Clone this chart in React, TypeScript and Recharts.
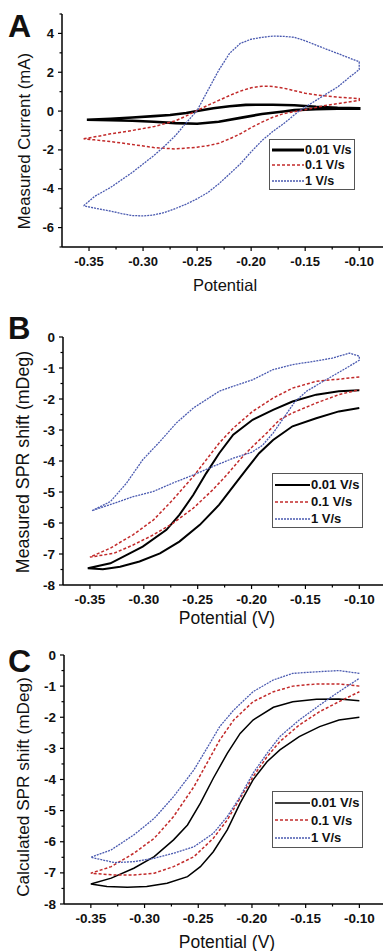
import React from "react";
import { LineChart, Line, XAxis, YAxis } from "recharts";

type Pt = [number, number];

// ---------- Panel A : Measured current (mA) ----------
const aSlow: Pt[] = [
  [-0.352, -0.45], [-0.33, -0.4], [-0.31, -0.33], [-0.29, -0.26], [-0.275, -0.2], [-0.26, -0.1], [-0.25, 0.0],
  [-0.235, 0.15], [-0.22, 0.25], [-0.205, 0.32], [-0.18, 0.33], [-0.16, 0.3], [-0.14, 0.22], [-0.12, 0.17], [-0.1, 0.15],
  [-0.1, 0.12], [-0.12, 0.12], [-0.14, 0.1], [-0.16, 0.05], [-0.17, -0.02], [-0.19, -0.15], [-0.21, -0.35],
  [-0.23, -0.55], [-0.25, -0.65], [-0.27, -0.62], [-0.29, -0.55], [-0.31, -0.5], [-0.33, -0.47], [-0.352, -0.45],
];
const aMid: Pt[] = [
  [-0.355, -1.43], [-0.34, -1.28], [-0.33, -1.17], [-0.31, -1.0], [-0.29, -0.8], [-0.27, -0.5], [-0.26, -0.25],
  [-0.25, 0.03], [-0.24, 0.3], [-0.23, 0.55], [-0.22, 0.8], [-0.21, 1.03], [-0.2, 1.2], [-0.19, 1.28], [-0.18, 1.27],
  [-0.17, 1.18], [-0.16, 1.05], [-0.15, 0.92], [-0.135, 0.8], [-0.12, 0.72], [-0.1, 0.64],
  [-0.1, 0.55], [-0.115, 0.42], [-0.13, 0.3], [-0.15, 0.07], [-0.17, -0.13], [-0.18, -0.32], [-0.19, -0.57],
  [-0.2, -0.85], [-0.21, -1.17], [-0.22, -1.43], [-0.23, -1.66], [-0.24, -1.78], [-0.25, -1.86], [-0.27, -1.95],
  [-0.29, -1.88], [-0.31, -1.72], [-0.33, -1.57], [-0.345, -1.48], [-0.355, -1.43],
];
const aFast: Pt[] = [
  [-0.355, -4.88], [-0.345, -4.4], [-0.33, -3.93], [-0.31, -3.16], [-0.29, -2.29], [-0.28, -1.8], [-0.27, -1.26],
  [-0.26, -0.6], [-0.25, 0.03], [-0.24, 1.07], [-0.23, 2.1], [-0.22, 2.97], [-0.21, 3.49], [-0.2, 3.7], [-0.19, 3.8],
  [-0.18, 3.86], [-0.17, 3.85], [-0.16, 3.8], [-0.15, 3.62], [-0.14, 3.4], [-0.13, 3.18], [-0.12, 2.97],
  [-0.11, 2.75], [-0.1, 2.54],
  [-0.1, 2.14], [-0.11, 1.7], [-0.12, 1.24], [-0.13, 0.9], [-0.14, 0.55], [-0.155, 0.03], [-0.17, -0.65],
  [-0.18, -1.05], [-0.19, -1.52], [-0.2, -2.1], [-0.21, -2.72], [-0.22, -3.24], [-0.23, -3.75], [-0.24, -4.19],
  [-0.25, -4.52], [-0.26, -4.79], [-0.27, -5.02], [-0.28, -5.22], [-0.29, -5.35], [-0.3, -5.4], [-0.31, -5.38],
  [-0.32, -5.28], [-0.33, -5.15], [-0.34, -5.05], [-0.355, -4.88],
];

// ---------- Panel B : Measured SPR shift (mDeg) ----------
const bSlow: Pt[] = [
  [-0.1, -1.72], [-0.119, -1.75], [-0.14, -1.86], [-0.162, -2.08], [-0.18, -2.35], [-0.199, -2.67], [-0.217, -3.15],
  [-0.23, -3.75], [-0.242, -4.39], [-0.254, -5.09], [-0.267, -5.74], [-0.279, -6.22], [-0.301, -6.76],
  [-0.331, -7.3], [-0.352, -7.46],
  [-0.338, -7.49], [-0.322, -7.41], [-0.304, -7.24], [-0.285, -6.98], [-0.267, -6.6], [-0.248, -6.06],
  [-0.23, -5.41], [-0.217, -4.82], [-0.205, -4.28], [-0.193, -3.75], [-0.18, -3.32], [-0.162, -2.88],
  [-0.14, -2.62], [-0.119, -2.4], [-0.1, -2.29],
];
const bMid: Pt[] = [
  [-0.1, -1.29], [-0.119, -1.36], [-0.14, -1.43], [-0.162, -1.65], [-0.18, -1.97], [-0.199, -2.4], [-0.217, -2.94],
  [-0.23, -3.42], [-0.242, -3.96], [-0.254, -4.5], [-0.273, -5.25], [-0.291, -5.9], [-0.31, -6.38],
  [-0.331, -6.81], [-0.35, -7.1],
  [-0.328, -6.98], [-0.31, -6.71], [-0.291, -6.38], [-0.273, -6.01], [-0.254, -5.52], [-0.236, -4.93],
  [-0.223, -4.45], [-0.211, -3.96], [-0.199, -3.53], [-0.186, -3.1], [-0.174, -2.67], [-0.162, -2.45],
  [-0.14, -2.13], [-0.119, -1.86], [-0.1, -1.7],
];
const bFast: Pt[] = [
  [-0.348, -5.6], [-0.331, -5.31], [-0.316, -4.71], [-0.301, -3.96], [-0.285, -3.37], [-0.27, -2.78],
  [-0.254, -2.29], [-0.242, -2.02], [-0.23, -1.75], [-0.217, -1.59], [-0.199, -1.38], [-0.18, -1.05],
  [-0.162, -0.89], [-0.143, -0.79], [-0.125, -0.68], [-0.109, -0.52], [-0.1, -0.62],
  [-0.1, -0.75], [-0.112, -1.0], [-0.131, -1.38], [-0.149, -1.75], [-0.16, -2.1], [-0.17, -2.6], [-0.18, -3.1],
  [-0.19, -3.5], [-0.2, -3.72], [-0.217, -3.91], [-0.236, -4.18], [-0.254, -4.45], [-0.273, -4.71],
  [-0.291, -4.98], [-0.31, -5.15], [-0.328, -5.37], [-0.348, -5.6],
];

// ---------- Panel C : Calculated SPR shift (mDeg) ----------
const cSlow: Pt[] = [
  [-0.1, -1.47], [-0.119, -1.41], [-0.14, -1.42], [-0.162, -1.5], [-0.18, -1.68], [-0.199, -2.09], [-0.211, -2.52],
  [-0.223, -3.16], [-0.236, -3.96], [-0.248, -4.76], [-0.26, -5.46], [-0.273, -5.94], [-0.291, -6.48],
  [-0.31, -6.85], [-0.331, -7.17], [-0.35, -7.36],
  [-0.335, -7.44], [-0.316, -7.46], [-0.298, -7.44], [-0.279, -7.33], [-0.26, -7.12], [-0.248, -6.8],
  [-0.236, -6.32], [-0.223, -5.62], [-0.211, -4.76], [-0.199, -4.01], [-0.186, -3.43], [-0.174, -3.05],
  [-0.156, -2.62], [-0.137, -2.3], [-0.119, -2.09], [-0.1, -2.0],
];
const cMid: Pt[] = [
  [-0.1, -1.0], [-0.119, -0.93], [-0.14, -0.93], [-0.162, -1.0], [-0.18, -1.18], [-0.199, -1.5], [-0.217, -2.09],
  [-0.23, -2.73], [-0.242, -3.48], [-0.254, -4.23], [-0.273, -5.19], [-0.291, -5.89], [-0.31, -6.37],
  [-0.331, -6.8], [-0.35, -7.01],
  [-0.328, -7.07], [-0.31, -7.07], [-0.291, -7.01], [-0.273, -6.8], [-0.254, -6.48], [-0.236, -5.89],
  [-0.223, -5.3], [-0.211, -4.6], [-0.199, -3.91], [-0.186, -3.27], [-0.174, -2.78], [-0.156, -2.25],
  [-0.137, -1.82], [-0.119, -1.5], [-0.1, -1.18],
];
const cFast: Pt[] = [
  [-0.1, -0.59], [-0.119, -0.5], [-0.14, -0.54], [-0.162, -0.59], [-0.18, -0.8], [-0.199, -1.18], [-0.217, -1.77],
  [-0.23, -2.3], [-0.242, -3.0], [-0.254, -3.69], [-0.273, -4.55], [-0.291, -5.25], [-0.31, -5.78],
  [-0.331, -6.26], [-0.35, -6.5],
  [-0.328, -6.67], [-0.31, -6.64], [-0.291, -6.53], [-0.273, -6.37], [-0.254, -6.16], [-0.236, -5.73],
  [-0.223, -5.19], [-0.211, -4.55], [-0.199, -3.8], [-0.186, -3.16], [-0.174, -2.62], [-0.156, -2.09],
  [-0.137, -1.61], [-0.119, -1.18], [-0.1, -0.75],
];

// ---------- ticks / labels ----------
const xDomain: [number, number] = [-0.375, -0.078];
const xMajor = [-0.35, -0.3, -0.25, -0.2, -0.15, -0.1];
const xMinor = [-0.325, -0.275, -0.225, -0.175, -0.125];
const aYMajor = [-6, -4, -2, 0, 2, 4];
const aYMinor = [-7, -5, -3, -1, 1, 3, 5];
const sprYMajor = [-8, -7, -6, -5, -4, -3, -2, -1, 0];
const sprYMinor = [-7.5, -6.5, -5.5, -4.5, -3.5, -2.5, -1.5, -0.5];
const legendNames = ["0.01 V/s", "0.1 V/s", "1 V/s"];

const FONT = '"Liberation Sans", Arial, Helvetica, sans-serif';
const RED = "#c22a2a";
const BLUE = "#4a5ab0";

const toRows = (pts: Pt[]) => pts.map(([x, y]) => ({ x, y }));
const isIn = (arr: number[], v: number) => arr.some((m) => Math.abs(m - v) < 1e-9);

const makeXTick = (fs: number) => (props: any) => {
  const { x, y, payload } = props;
  const v = payload.value as number;
  const major = isIn(xMajor, v);
  return (
    <g>
      <line x1={x} x2={x} y1={y} y2={y + (major ? 4 : 2.5)} stroke="#000" strokeWidth={1.2} />
      {major && (
        <text x={x} y={y + 14} textAnchor="middle" dominantBaseline="central" fontSize={fs} fontWeight="bold" fontFamily={FONT} fill="#111">
          {v.toFixed(2)}
        </text>
      )}
    </g>
  );
};

const makeYTick = (majors: number[], fs: number) => (props: any) => {
  const { x, y, payload } = props;
  const v = payload.value as number;
  const major = isIn(majors, v);
  return (
    <g>
      <line x1={x} x2={x - (major ? 4 : 2.5)} y1={y} y2={y} stroke="#000" strokeWidth={1.2} />
      {major && (
        <text x={x - 8} y={y} textAnchor="end" dominantBaseline="central" fontSize={fs} fontWeight="bold" fontFamily={FONT} fill="#111">
          {String(v)}
        </text>
      )}
    </g>
  );
};

type PanelProps = {
  top: number;
  height: number;
  plotTop: number;
  plotBottom: number;
  axisLeft: number;
  yDomain: [number, number];
  yMajor: number[];
  yMinor: number[];
  series: Pt[][];
  blackWidth: number;
  tickFs: number;
};

function Panel(p: PanelProps) {
  const xAxisH = 30;
  const colors = ["#000", RED, BLUE];
  const dashes = [undefined, "3 2", "2 1"];
  const widths = [p.blackWidth, 1.5, 1.3];
  return (
    <div style={{ position: "absolute", left: 0, top: p.top }}>
      <LineChart
        width={384}
        height={p.height}
        margin={{ top: p.plotTop, right: 1, left: 0, bottom: p.height - p.plotBottom - xAxisH }}
      >
        <XAxis
          type="number"
          dataKey="x"
          domain={xDomain}
          allowDataOverflow
          ticks={[...xMajor, ...xMinor]}
          interval={0}
          tickSize={0}
          tickMargin={0}
          tickLine={false}
          height={xAxisH}
          axisLine={{ stroke: "#000", strokeWidth: 1.5 }}
          tick={makeXTick(p.tickFs)}
        />
        <YAxis
          type="number"
          dataKey="y"
          domain={p.yDomain}
          allowDataOverflow
          ticks={[...p.yMajor, ...p.yMinor]}
          interval={0}
          tickSize={0}
          tickMargin={0}
          tickLine={false}
          width={p.axisLeft}
          axisLine={{ stroke: "#000", strokeWidth: 1.5 }}
          tick={makeYTick(p.yMajor, p.tickFs)}
        />
        {p.series.map((s, i) => (
          <Line
            key={i}
            data={toRows(s)}
            dataKey="y"
            type="linear"
            stroke={colors[i]}
            strokeWidth={widths[i]}
            strokeDasharray={dashes[i]}
            dot={false}
            activeDot={false}
            isAnimationActive={false}
          />
        ))}
      </LineChart>
    </div>
  );
}

function LegendBox(props: { left: number; top: number; width: number; rowH: number; lineW: number; blackW: number; fs: number }) {
  const colors = ["#000", RED, BLUE];
  const dashes = [undefined, "3 2", "2 1"];
  const widths = [props.blackW, 1.5, 1.3];
  const h = props.rowH * 3 + 4;
  return (
    <div
      style={{
        position: "absolute",
        left: props.left,
        top: props.top,
        width: props.width,
        height: h,
        border: "1px solid #555",
        boxSizing: "border-box",
        background: "#fff",
      }}
    >
      {legendNames.map((n, i) => (
        <div key={n} style={{ position: "absolute", left: 2, top: 2 + i * props.rowH, height: props.rowH, display: "flex", alignItems: "center" }}>
          <svg width={props.lineW} height={6} style={{ display: "block" }}>
            <line x1={0} x2={props.lineW} y1={3} y2={3} stroke={colors[i]} strokeWidth={widths[i]} strokeDasharray={dashes[i]} />
          </svg>
          <span style={{ fontFamily: FONT, fontWeight: "bold", fontSize: props.fs, color: "#111", marginLeft: 1, whiteSpace: "nowrap" }}>{n}</span>
        </div>
      ))}
    </div>
  );
}

const txt = (s: React.CSSProperties): React.CSSProperties => ({ position: "absolute", fontFamily: FONT, color: "#111", whiteSpace: "nowrap", ...s });

export default function App() {
  return (
    <div style={{ position: "absolute", left: 0, top: 0, width: 384, height: 951, background: "#fff", overflow: "hidden" }}>
      <Panel top={0} height={310} plotTop={14} plotBottom={247} axisLeft={62} yDomain={[-7, 5]} yMajor={aYMajor} yMinor={aYMinor} series={[aSlow, aMid, aFast]} blackWidth={2.6} tickFs={13} />
      <Panel top={320} height={310} plotTop={17} plotBottom={265} axisLeft={63} yDomain={[-8, 0]} yMajor={sprYMajor} yMinor={sprYMinor} series={[bSlow, bMid, bFast]} blackWidth={2} tickFs={13.5} />
      <Panel top={640} height={311} plotTop={15} plotBottom={264} axisLeft={64} yDomain={[-8, 0]} yMajor={sprYMajor} yMinor={sprYMinor} series={[cSlow, cMid, cFast]} blackWidth={1.5} tickFs={13.5} />

      {/* panel letters */}
      <div style={txt({ left: 8, top: 8, fontSize: 32, fontWeight: "bold", lineHeight: "36px" })}>A</div>
      <div style={txt({ left: 8, top: 311, fontSize: 31, fontWeight: "bold", lineHeight: "36px" })}>B</div>
      <div style={txt({ left: 8, top: 643, fontSize: 32, fontWeight: "bold", lineHeight: "36px" })}>C</div>

      {/* y titles */}
      <div style={txt({ left: 25, top: 141, fontSize: 16.8, transform: "translate(-50%, -50%) rotate(-90deg)" })}>Measured Current (mA)</div>
      <div style={txt({ left: 23, top: 462, fontSize: 17.8, transform: "translate(-50%, -50%) rotate(-90deg)" })}>Measured SPR shift (mDeg)</div>
      <div style={txt({ left: 23, top: 787, fontSize: 17.2, transform: "translate(-50%, -50%) rotate(-90deg)" })}>Calculated SPR shift (mDeg)</div>

      {/* x titles */}
      <div style={txt({ left: 225, top: 285, fontSize: 16.5, transform: "translate(-50%, -50%)" })}>Potential</div>
      <div style={txt({ left: 227, top: 618, fontSize: 17.5, transform: "translate(-50%, -50%)" })}>Potential (V)</div>
      <div style={txt({ left: 227, top: 942, fontSize: 17.5, transform: "translate(-50%, -50%)" })}>Potential (V)</div>

      {/* legends */}
      <LegendBox left={269} top={139} width={86} rowH={15.5} lineW={32} blackW={3} fs={12.5} />
      <LegendBox left={272} top={473} width={91} rowH={17} lineW={35} blackW={2} fs={13} />
      <LegendBox left={272} top={791} width={91} rowH={17.5} lineW={35} blackW={1.5} fs={13} />
    </div>
  );
}
